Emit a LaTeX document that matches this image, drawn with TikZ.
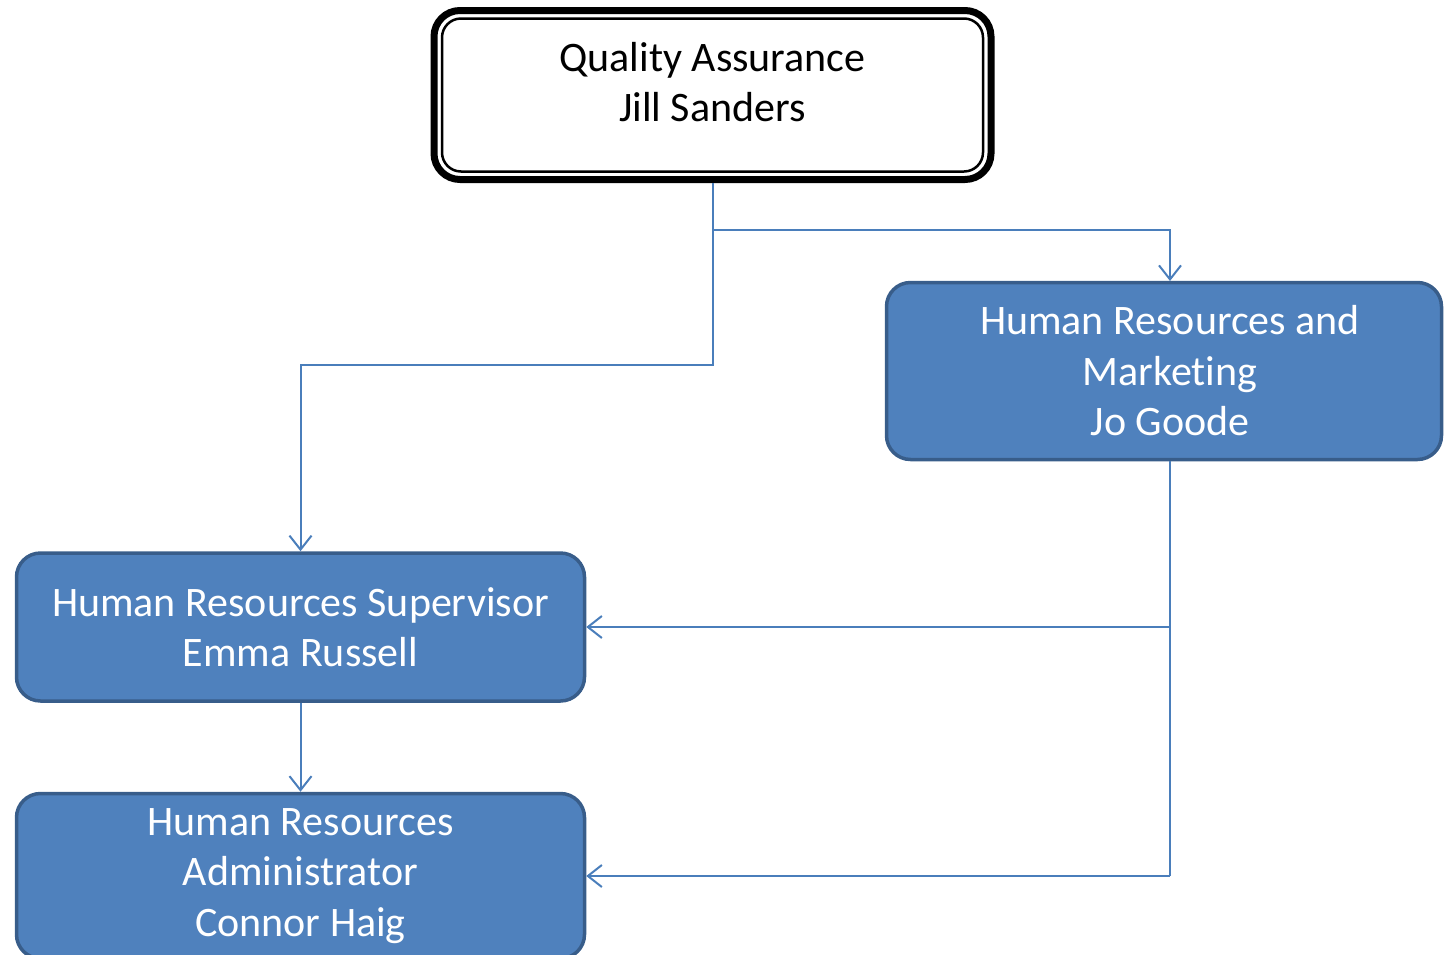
\documentclass[tikz,border=0pt]{standalone}
\usepackage{fontspec}
\setmainfont{Carlito}[Ligatures=CommonOff]
\usetikzlibrary{arrows.meta}
\definecolor{boxfill}{HTML}{4F81BD}
\definecolor{boxline}{HTML}{385D8A}
\definecolor{connc}{HTML}{4A7EBB}
\begin{document}
\begin{tikzpicture}[x=1pt,y=-1pt,
  txt/.style={align=center,font=\fontsize{42}{50.5}\selectfont,inner sep=0pt},
  bluebox/.style={txt,rectangle,rounded corners=24pt,fill=boxfill,draw=boxline,line width=3.5pt,text=white},
  connline/.style={draw=connc,line width=2pt},
  conn/.style={connline,-{Straight Barb[length=14pt,width=22pt,line width=2pt]}}]
\clip (0,0) rectangle (1444,954);
% top box
\node[draw,line width=7pt,rounded corners=26pt,minimum width=557pt,minimum height=169pt,inner sep=0pt,outer sep=0pt] (qa) at (712.5,95) {};
\draw[line width=2.5pt,rounded corners=19pt] ([xshift=8pt,yshift=-8pt]qa.north west) rectangle ([xshift=-8pt,yshift=8pt]qa.south east);
\node[txt] (qt) at (712.5,82) {Quality Assurance\\Jill Sanders};
% blue boxes
\node[bluebox,minimum width=555pt,minimum height=177pt] (hrm) at (1164,371) {\hspace*{12pt}Human Resources and\\\hspace*{12pt}Marketing\\\hspace*{12pt}Jo Goode};
\node[bluebox,minimum width=568pt,minimum height=148pt] (hrs) at (300.5,627) {Human Resources Supervisor\\Emma Russell};
\node[bluebox,minimum width=568pt,minimum height=165pt] (hra) at (300.5,876) {Human Resources\\Administrator\\Connor Haig};
% junctions
\coordinate (j1) at (712.5,230);
\coordinate (j2) at (712.5,365);
\coordinate (hrmin) at (1170,281);
\coordinate (hb) at (1170,461);
\coordinate (k1) at (1170,627);
\coordinate (k2) at (1170,876);
% connectors
\draw[conn] ([yshift=-3.5pt]qa.south) -- (j2) -| (hrs.north);
\draw[conn] (j1) -| (hrmin);
\draw[connline] (hb) -- (k2);
\draw[conn] (k1) -- (hrs.east);
\draw[conn] (k2) -- (hra.east);
\draw[conn] (hrs.south) -- (hra.north);
\end{tikzpicture}
\end{document}
